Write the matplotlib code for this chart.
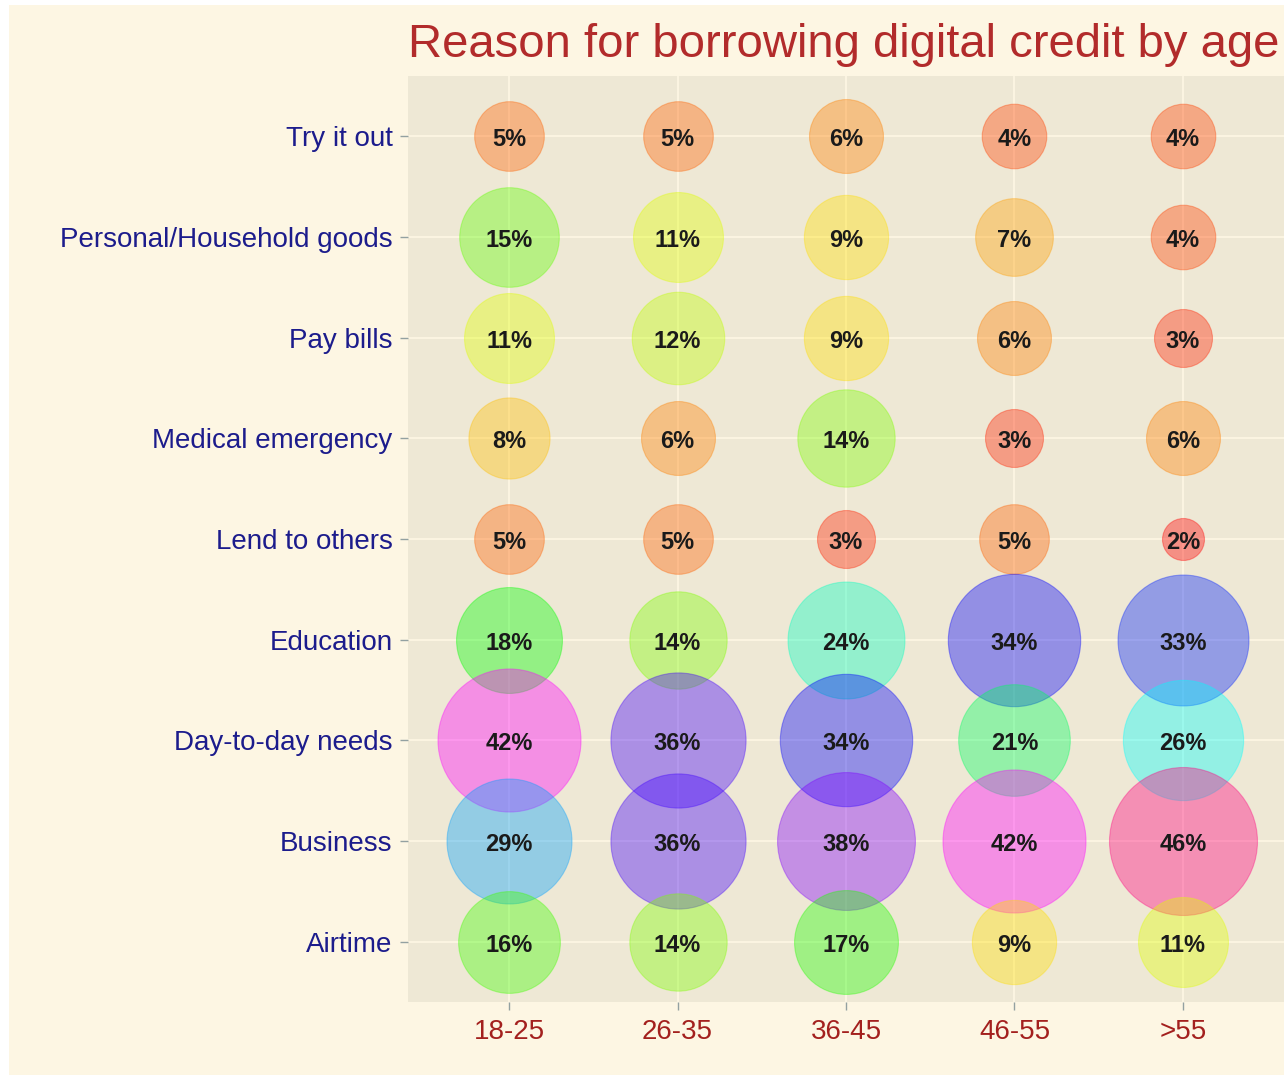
import colorsys
import numpy as np
import matplotlib
matplotlib.use("Agg")
import matplotlib.pyplot as plt
from matplotlib.patches import Rectangle

ages = ["18-25", "26-35", "36-45", "46-55", ">55"]
reasons = ["Try it out", "Personal/Household goods", "Pay bills", "Medical emergency",
           "Lend to others", "Education", "Day-to-day needs", "Business", "Airtime"]

try_it_out = [5, 5, 6, 4, 4]
household  = [15, 11, 9, 7, 4]
pay_bills  = [11, 12, 9, 6, 3]
medical    = [8, 6, 14, 3, 6]
lend       = [5, 5, 3, 5, 2]
education  = [18, 14, 24, 34, 33]
day_to_day = [42, 36, 34, 21, 26]
business   = [29, 36, 38, 42, 46]
airtime    = [16, 14, 17, 9, 11]

rows = [try_it_out, household, pay_bills, medical, lend,
        education, day_to_day, business, airtime]

plt.rcParams['font.family'] = ['Liberation Sans', 'DejaVu Sans']

W, H = 1284, 1079
fig = plt.figure(figsize=(W / 100, H / 100), dpi=100, facecolor="white")
fig.patches.append(Rectangle((9 / W, 4 / H), 1 - 9 / W, 1 - 9 / H,
                             transform=fig.transFigure, facecolor="#FDF6E3",
                             edgecolor="none", zorder=-10))

ax = fig.add_axes([408 / W, 1 - 1002 / H, (W - 408) / W, (1002 - 76) / H])
ax.set_facecolor("#EEE8D5")

vals = np.array(rows, dtype=float)
vmin, vmax = vals.min(), vals.max()

n = len(reasons)
for i, row in enumerate(rows):
    y = n - i
    for j, v in enumerate(row):
        x = j + 1
        t = (v - vmin) / (vmax - vmin)
        rgb = colorsys.hsv_to_rgb(t * 0.917, 1, 1)
        # ggplot-like area palette: radius grows with sqrt of rescaled value
        r_px = 21 + 53 * np.sqrt(t)
        s = (2 * r_px * 0.72) ** 2
        ax.scatter([x], [y], s=s, facecolor=rgb + (0.38,), edgecolor=rgb + (0.35,),
                   linewidth=0.8, zorder=3)
        ax.annotate(f"{v:.0f}%", (x, y), xytext=(0, -2.5), textcoords="offset points",
                    ha="center", va="center", fontsize=17, fontweight="bold",
                    color="#1a1a1a", zorder=4)

ax.set_xlim(0.4, 5.6)
ax.set_ylim(0.4, n + 0.6)
ax.set_xticks(range(1, 6))
ax.set_xticklabels(ages)
ax.set_yticks(range(1, n + 1))
ax.set_yticklabels(reasons[::-1])
ax.tick_params(axis="x", colors="#93A1A1", length=6, width=1, pad=6,
               labelsize=20, labelcolor="#A3201E")
ax.tick_params(axis="y", colors="#93A1A1", length=6, width=1, pad=5,
               labelsize=20, labelcolor="#1C1C8C")
ax.grid(True, color="#FDF6E3", linewidth=1.3, zorder=1)
ax.set_axisbelow(True)
for sp in ax.spines.values():
    sp.set_visible(False)

fig.text(408 / W, 1 - 57 / H, "Reason for borrowing digital credit by age",
         fontsize=34, color="#B22B2B", ha="left", va="baseline")

fig.savefig("out.png", dpi=100, facecolor=fig.get_facecolor())
